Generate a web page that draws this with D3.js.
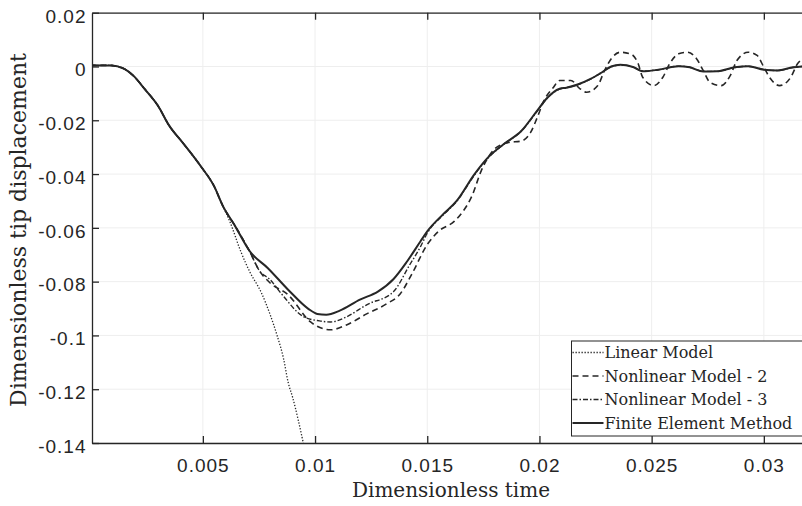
<!DOCTYPE html>
<html>
<head>
<meta charset="utf-8">
<script src="https://cdn.jsdelivr.net/npm/d3@7"></script>
<style>
    body { margin: 0; background: #fff; }
    .tick text { font-family: "Liberation Sans", Arial, sans-serif; font-size: 19px; letter-spacing: 1px; fill: #262626; }
    .axisLabel { font-family: "DejaVu Serif", "Liberation Serif", serif; font-size: 20px; fill: #262626; }
    .legendText { font-family: "DejaVu Serif", "Liberation Serif", serif; font-size: 16px; fill: #262626; }
</style>
</head>
<body>
<div id="canvas"></div>
<script>
"use strict"

let svgWidth = 802
let svgHeight = 506

let topMargin = 12.7
let rightMargin = 0
let bottomMargin = 63
let leftMargin = 92

// x tick values and y tick values with their labels
let xTicks = [0.005, 0.01, 0.015, 0.02, 0.025, 0.03]
let xTickLabels = ["0.005", "0.01", "0.015", "0.02", "0.025", "0.03"]
let yTicks = [0.02, 0, -0.02, -0.04, -0.06, -0.08, -0.1, -0.12, -0.14]
let yTickLabels = ["0.02", "0", "-0.02", "-0.04", "-0.06", "-0.08", "-0.1", "-0.12", "-0.14"]

// Finite Element Method (solid)
let timeFem = [0, 0.0001, 0.0009, 0.0015, 0.0019, 0.0024, 0.0030, 0.0035, 0.0041, 0.0049, 0.0055, 0.0059, 0.0064, 0.0071, 0.0079, 0.0088, 0.0097, 0.0101, 0.0105, 0.0111, 0.0120, 0.0128, 0.0135, 0.0141, 0.0147, 0.0150, 0.0157, 0.0163, 0.0171, 0.0177, 0.0184, 0.0192, 0.0199, 0.0203, 0.0209, 0.0212, 0.0217, 0.0223, 0.0227, 0.0232, 0.0236, 0.0242, 0.0246, 0.0253, 0.0262, 0.0267, 0.0273, 0.0279, 0.0287, 0.0293, 0.0300, 0.0306, 0.0313, 0.0318]
let dispFem = [0, 0.0004, 0.0004, -0.0009, -0.0034, -0.0083, -0.0146, -0.0220, -0.0283, -0.0370, -0.0445, -0.0520, -0.0588, -0.0688, -0.0750, -0.0830, -0.0901, -0.0920, -0.0923, -0.0908, -0.0867, -0.0837, -0.0790, -0.0725, -0.0650, -0.0613, -0.0550, -0.0501, -0.0401, -0.0339, -0.0289, -0.0239, -0.0164, -0.0121, -0.0083, -0.0079, -0.0067, -0.0045, -0.0026, 0.0000, 0.0006, -0.0003, -0.0018, -0.0012, 0.0001, -0.0003, -0.0019, -0.0018, -0.0003, 0.0001, -0.0012, -0.0015, -0.0003, 0.0001]

// Nonlinear Model - 3 (dash-dot)
let timeNl3 = [0, 0.0001, 0.0009, 0.0015, 0.0019, 0.0024, 0.0030, 0.0035, 0.0041, 0.0049, 0.0055, 0.0059, 0.0064, 0.0071, 0.0075, 0.0080, 0.0085, 0.0095, 0.0102, 0.0107, 0.0114, 0.0123, 0.0135, 0.0142, 0.0147, 0.0150, 0.0157, 0.0163, 0.0171, 0.0177, 0.0184, 0.0192, 0.0199, 0.0203, 0.0209, 0.0212, 0.0217, 0.0223, 0.0227, 0.0232, 0.0236, 0.0242, 0.0246, 0.0253, 0.0262, 0.0267, 0.0273, 0.0279, 0.0287, 0.0293, 0.0300, 0.0306, 0.0313, 0.0318]
let dispNl3 = [0, 0.0004, 0.0004, -0.0009, -0.0034, -0.0083, -0.0146, -0.0220, -0.0283, -0.0370, -0.0445, -0.0520, -0.0588, -0.0690, -0.0757, -0.0793, -0.0845, -0.0931, -0.0946, -0.0950, -0.0931, -0.0886, -0.0837, -0.0740, -0.0670, -0.0620, -0.0553, -0.0503, -0.0404, -0.0341, -0.0290, -0.0240, -0.0166, -0.0122, -0.0084, -0.0079, -0.0068, -0.0046, -0.0027, -0.0001, 0.0005, -0.0003, -0.0017, -0.0012, 0.0001, -0.0003, -0.0018, -0.0018, -0.0004, 0.0001, -0.0011, -0.0015, -0.0004, 0.0001]

// Nonlinear Model - 2 (dashed)
let timeNl2 = [0, 0.0001, 0.0009, 0.0015, 0.0019, 0.0024, 0.0030, 0.0035, 0.0041, 0.0049, 0.0055, 0.0059, 0.0064, 0.0071, 0.0075, 0.0080, 0.0088, 0.0098, 0.0107, 0.0114, 0.0123, 0.0132, 0.0138, 0.0143, 0.0150, 0.0155, 0.0162, 0.0166, 0.0170, 0.0174, 0.0180, 0.0186, 0.0192, 0.0196, 0.0199, 0.0202, 0.0206, 0.0209, 0.0214, 0.0218, 0.0221, 0.0226, 0.0229, 0.0232, 0.0236, 0.0241, 0.0244, 0.0246, 0.0251, 0.0255, 0.0258, 0.0262, 0.0266, 0.0270, 0.0273, 0.0276, 0.0281, 0.0285, 0.0288, 0.0293, 0.0297, 0.0300, 0.0303, 0.0307, 0.0312, 0.0315, 0.0318]
let dispNl2 = [0, 0.0004, 0.0004, -0.0009, -0.0034, -0.0083, -0.0146, -0.0220, -0.0283, -0.0370, -0.0445, -0.0520, -0.0588, -0.0690, -0.0757, -0.0805, -0.0849, -0.0950, -0.0979, -0.0961, -0.0920, -0.0882, -0.0845, -0.0774, -0.0662, -0.0613, -0.0576, -0.0538, -0.0480, -0.0389, -0.0307, -0.0283, -0.0277, -0.0246, -0.0190, -0.0127, -0.0080, -0.0052, -0.0052, -0.0082, -0.0096, -0.0071, -0.0015, 0.0029, 0.0053, 0.0045, 0.0010, -0.0040, -0.0071, -0.0040, 0.0010, 0.0047, 0.0053, 0.0029, -0.0015, -0.0059, -0.0071, -0.0034, 0.0022, 0.0053, 0.0041, -0.0003, -0.0046, -0.0071, -0.0040, 0.0010, 0.0029]

// Linear Model (dotted)
let timeLin = [0, 0.0001, 0.0009, 0.0015, 0.0019, 0.0024, 0.0030, 0.0035, 0.0041, 0.0049, 0.0055, 0.0059, 0.0062, 0.0067, 0.0071, 0.0076, 0.0080, 0.0083, 0.0086, 0.0088, 0.0090, 0.0095]
let dispLin = [0, 0.0004, 0.0004, -0.0009, -0.0034, -0.0083, -0.0146, -0.0220, -0.0283, -0.0370, -0.0445, -0.0520, -0.0576, -0.0690, -0.0765, -0.0840, -0.0923, -0.0998, -0.1088, -0.1174, -0.1230, -0.1409]

let legendLabels = ["Linear Model", "Nonlinear Model - 2", "Nonlinear Model - 3", "Finite Element Method"]

let xScale, yScale

let svg = d3.select("#canvas")
    .append("svg")
    .attr("width", svgWidth)
    .attr("height", svgHeight)

function buildScales() {
    xScale = d3.scaleLinear()
        .domain([0.00006, 0.0317])
        .range([leftMargin, svgWidth - rightMargin])

    yScale = d3.scaleLinear()
        .domain([-0.14, 0.02])
        .range([svgHeight - bottomMargin, topMargin])
}

function zipSeries(times, values) {
    return times.map(function (t, i) {
        return { t: t, v: values[i] }
    })
}

function drawVisualization() {
    let plotBottom = svgHeight - bottomMargin
    let plotRight = svgWidth - rightMargin

    /* grid lines */
    svg.selectAll("line.xgrid")
        .data(xTicks)
        .join("line")
        .classed("xgrid", true)
        .attr("x1", d => xScale(d))
        .attr("x2", d => xScale(d))
        .attr("y1", topMargin)
        .attr("y2", plotBottom)
        .attr("stroke", "#eeeeee")
        .attr("stroke-width", 1)

    svg.selectAll("line.ygrid")
        .data(yTicks)
        .join("line")
        .classed("ygrid", true)
        .attr("x1", leftMargin)
        .attr("x2", plotRight)
        .attr("y1", d => yScale(d))
        .attr("y2", d => yScale(d))
        .attr("stroke", "#eeeeee")
        .attr("stroke-width", 1)

    /* curves */
    svg.append("clipPath")
        .attr("id", "plotClip")
        .append("rect")
        .attr("x", leftMargin)
        .attr("y", topMargin)
        .attr("width", plotRight - leftMargin)
        .attr("height", plotBottom - topMargin)

    let line = d3.line()
        .x(d => xScale(d.t))
        .y(d => yScale(d.v))
        .curve(d3.curveMonotoneX)

    let series = [
        { data: zipSeries(timeLin, dispLin), width: 1.3, dash: "1.3,1.7" },
        { data: zipSeries(timeNl2, dispNl2), width: 1.6, dash: "6,4" },
        { data: zipSeries(timeNl3, dispNl3), width: 1.4, dash: "5,2,1.5,2" },
        { data: zipSeries(timeFem, dispFem), width: 2, dash: null }
    ]

    let curves = svg.append("g").attr("clip-path", "url(#plotClip)")
    curves.selectAll("path.curve")
        .data(series)
        .join("path")
        .classed("curve", true)
        .attr("d", d => line(d.data))
        .attr("fill", "none")
        .attr("stroke", "#262626")
        .attr("stroke-width", d => d.width)
        .attr("stroke-dasharray", d => d.dash)

    /* axes */
    let xAxis = svg.append("g")
        .attr("transform", `translate(0, ${plotBottom})`)
        .call(d3.axisBottom(xScale).tickValues(xTicks)
            .tickFormat((d, i) => xTickLabels[i])
            .tickSizeInner(-7).tickSizeOuter(0))
    xAxis.selectAll("text").attr("y", 29).attr("dy", null)

    svg.append("g")
        .attr("transform", `translate(0, ${topMargin})`)
        .call(d3.axisTop(xScale).tickValues(xTicks)
            .tickFormat("").tickSizeInner(-7).tickSizeOuter(0))

    let yAxis = svg.append("g")
        .attr("transform", `translate(${leftMargin}, 0)`)
        .call(d3.axisLeft(yScale).tickValues(yTicks)
            .tickFormat((d, i) => yTickLabels[i])
            .tickSizeInner(-7).tickSizeOuter(0).tickPadding(5.5))
    yAxis.selectAll("text").attr("dy", "0.49em")

    svg.selectAll(".domain, .tick line")
        .attr("stroke", "#262626")
        .attr("stroke-width", 1.3)

    /* axis labels */
    svg.append("text")
        .attr("class", "axisLabel")
        .attr("x", 451)
        .attr("y", 497)
        .style("text-anchor", "middle")
        .text("Dimensionless time")

    svg.append("text")
        .attr("class", "axisLabel")
        .attr("transform", "translate(26, 230) rotate(-90)")
        .style("text-anchor", "middle")
        .style("font-size", "22px")
        .text("Dimensionless tip displacement")

    /* legend */
    let legendX = 571.5
    let legendY = 341
    let legend = svg.append("g")
    legend.append("rect")
        .attr("x", legendX)
        .attr("y", legendY)
        .attr("width", plotRight + 2 - legendX)
        .attr("height", 95)
        .attr("fill", "white")
        .attr("stroke", "#262626")
        .attr("stroke-width", 1)

    let rowY = d3.scalePoint().domain(legendLabels).range([352.5, 423])

    legend.selectAll("line.key")
        .data(series)
        .join("line")
        .classed("key", true)
        .attr("x1", legendX + 1)
        .attr("x2", legendX + 32)
        .attr("y1", (d, i) => rowY(legendLabels[i]))
        .attr("y2", (d, i) => rowY(legendLabels[i]))
        .attr("stroke", "#262626")
        .attr("stroke-width", d => d.width)
        .attr("stroke-dasharray", d => d.dash)

    legend.selectAll("text.legendText")
        .data(legendLabels)
        .join("text")
        .classed("legendText", true)
        .attr("x", legendX + 33)
        .attr("y", d => rowY(d))
        .attr("dy", "0.35em")
        .text(d => d)
}

buildScales()
drawVisualization()
</script>
</body>
</html>
